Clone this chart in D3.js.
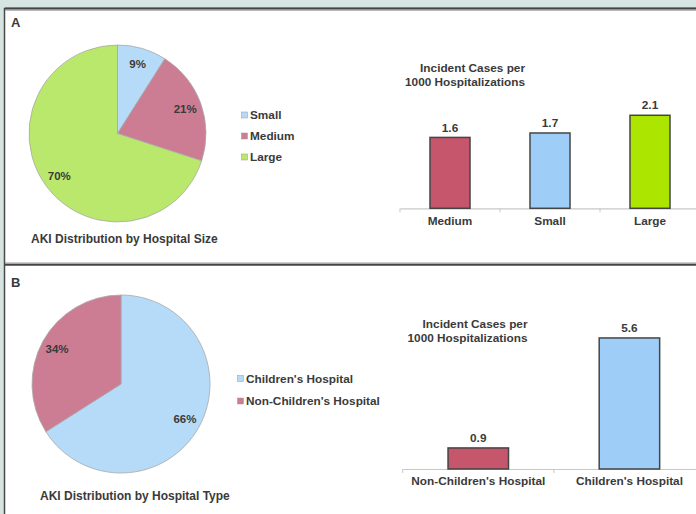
<!DOCTYPE html>
<html>
<head>
  <meta charset="utf-8">
  <title>AKI distribution by hospital</title>
  <script src="https://cdnjs.cloudflare.com/ajax/libs/d3/7.8.5/d3.min.js"></script>
  <style>
    body { margin: 0; background: #d5e4e0; }
    text { font-family: "Liberation Sans", Arial, sans-serif; font-weight: bold; fill: #3a3a3a; }
  </style>
</head>
<body>
  <script>
    // panel A : hospital size
    const sizeCats = [ "Small", "Medium", "Large" ];
    const sizeShare = [ 9, 21, 70 ];
    const sizeBarCats = [ "Medium", "Small", "Large" ];
    const sizeRates = [ 1.6, 1.7, 2.1 ];

    // panel B : hospital type
    const typeCats = [ "Children's Hospital", "Non-Children's Hospital" ];
    const typeShare = [ 66, 34 ];
    const typeBarCats = [ "Non-Children's Hospital", "Children's Hospital" ];
    const typeRates = [ 0.9, 5.6 ];

    const pieColor = { "Small": "#b5dbf8", "Medium": "#cc7d93", "Large": "#b9e86c",
                       "Children's Hospital": "#b5dbf8", "Non-Children's Hospital": "#cc7d93" };
    const barColor = { "Small": "#9ecdf7", "Medium": "#c5566b", "Large": "#ace600",
                       "Children's Hospital": "#9ecdf7", "Non-Children's Hospital": "#c5566b" };

    const width = 696, height = 514;

    const svg = d3.select( "body" )
      .append( "svg" )
      .attr( "width", width )
      .attr( "height", height );

    // frame
    svg.append( "rect" )
      .attr( "x", 4.5 ).attr( "y", 8.5 )
      .attr( "width", width ).attr( "height", height )
      .attr( "fill", "#fff" )
      .attr( "stroke", "#4a4a4a" ).attr( "stroke-width", 1.5 );
    svg.append( "line" )
      .attr( "x1", 5 ).attr( "x2", width ).attr( "y1", 8.5 ).attr( "y2", 8.5 )
      .attr( "stroke", "#444" ).attr( "stroke-width", 2 );
    svg.append( "line" )
      .attr( "x1", 5 ).attr( "x2", width ).attr( "y1", 10.3 ).attr( "y2", 10.3 )
      .attr( "stroke", "#aaa" );
    svg.append( "line" )
      .attr( "x1", 5 ).attr( "x2", width ).attr( "y1", 263 ).attr( "y2", 263 )
      .attr( "stroke", "#999" ).attr( "stroke-width", 1 );
    svg.append( "line" )
      .attr( "x1", 5 ).attr( "x2", width ).attr( "y1", 264.8 ).attr( "y2", 264.8 )
      .attr( "stroke", "#444" ).attr( "stroke-width", 2 );

    svg.append( "text" ).attr( "x", 11 ).attr( "y", 27 )
      .style( "font-size", "13px" ).text( "A" );
    svg.append( "text" ).attr( "x", 11 ).attr( "y", 287 )
      .style( "font-size", "13px" ).text( "B" );

    function drawPie( cats, share, cx, cy, r, labelR ) {
      const g = svg.append( "g" ).attr( "transform", `translate(${cx},${cy})` );
      const arcs = d3.pie().sort( null )( share );
      const arc = d3.arc().innerRadius( 0 ).outerRadius( r );
      const labelArc = d3.arc().innerRadius( labelR ).outerRadius( labelR );
      g.selectAll( "path" )
        .data( arcs )
        .enter()
        .append( "path" )
        .attr( "d", arc )
        .attr( "fill", ( d, i ) => pieColor[ cats[i] ] )
        .attr( "stroke", "#a8a8a8" )
        .attr( "stroke-width", 0.8 );
      g.selectAll( "text" )
        .data( arcs )
        .enter()
        .append( "text" )
        .attr( "transform", d => `translate(${labelArc.centroid( d )})` )
        .attr( "text-anchor", "middle" )
        .attr( "dy", "0.35em" )
        .style( "font-size", "11.5px" )
        .text( d => d.data + "%" );
    }

    function drawLegend( cats, x, y0, gap ) {
      const g = svg.append( "g" );
      const items = g.selectAll( "g" )
        .data( cats )
        .enter()
        .append( "g" )
        .attr( "transform", ( d, i ) => `translate(${x},${y0 + i * gap})` );
      items.append( "rect" )
        .attr( "x", 0 ).attr( "y", -3 )
        .attr( "width", 6 ).attr( "height", 6 )
        .attr( "fill", d => pieColor[d] )
        .attr( "stroke", "#999" ).attr( "stroke-width", 0.5 );
      items.append( "text" )
        .attr( "x", 8.5 ).attr( "dy", "0.36em" )
        .style( "font-size", "11.8px" )
        .text( d => d );
    }

    function drawBars( cats, vals, x0, x1, yBase, pxPerUnit, titleX, titleY ) {
      const x = d3.scaleBand()
        .domain( cats )
        .range( [x0, x1] )
        .paddingInner( 0.6 )
        .paddingOuter( 0.3 );
      const y = d3.scaleLinear()
        .domain( [0, 6] )
        .range( [yBase, yBase - 6 * pxPerUnit] );
      const g = svg.append( "g" );

      // axis line with ticks between categories
      const axis = g.append( "g" )
        .attr( "transform", `translate(0,${yBase})` )
        .call( d3.axisBottom( x ).tickSize( 0 ).tickPadding( 8 ) );
      axis.select( ".domain" ).attr( "stroke", "#c8c8c8" ).attr( "stroke-width", 1.2 );
      axis.selectAll( "text" )
        .style( "font-size", "11.8px" )
        .attr( "fill", "#3a3a3a" )
        .attr( "font-family", null );
      const bounds = d3.range( cats.length + 1 ).map( i => x0 + i * x.step() );
      g.selectAll( ".tk" )
        .data( bounds )
        .enter()
        .append( "line" )
        .attr( "x1", d => d ).attr( "x2", d => d )
        .attr( "y1", yBase ).attr( "y2", yBase + 4 )
        .attr( "stroke", "#c8c8c8" );

      g.selectAll( ".bar" )
        .data( vals )
        .enter()
        .append( "rect" )
        .attr( "x", ( d, i ) => x( cats[i] ) )
        .attr( "y", d => y( d ) )
        .attr( "width", x.bandwidth() )
        .attr( "height", d => y( 0 ) - y( d ) )
        .attr( "fill", ( d, i ) => barColor[ cats[i] ] )
        .attr( "stroke", "#454545" )
        .attr( "stroke-width", 1.5 );

      g.selectAll( ".val" )
        .data( vals )
        .enter()
        .append( "text" )
        .attr( "x", ( d, i ) => x( cats[i] ) + x.bandwidth() / 2 )
        .attr( "y", d => y( d ) - 10 )
        .attr( "dy", "0.35em" )
        .attr( "text-anchor", "middle" )
        .style( "font-size", "11.8px" )
        .text( d => d.toFixed( 1 ) );

      const t = g.append( "text" )
        .attr( "text-anchor", "end" )
        .style( "font-size", "11.8px" );
      t.append( "tspan" ).attr( "x", titleX ).attr( "y", titleY ).text( "Incident Cases per" );
      t.append( "tspan" ).attr( "x", titleX ).attr( "y", titleY + 14.5 ).text( "1000 Hospitalizations" );
    }

    // panel A
    drawPie( sizeCats, sizeShare, 117.5, 133.5, 88.5, 72 );
    drawLegend( sizeCats, 241.5, 115, 21 );
    svg.append( "text" ).attr( "x", 31 ).attr( "y", 243 )
      .style( "font-size", "12px" ).text( "AKI Distribution by Hospital Size" );
    drawBars( sizeBarCats, sizeRates, 400, 700, 208.3, 44.3, 525, 71.5 );

    // panel B
    drawPie( typeCats, typeShare, 121, 384, 89, 73 );
    drawLegend( typeCats, 237.5, 378.5, 22.5 );
    svg.append( "text" ).attr( "x", 40 ).attr( "y", 500 )
      .style( "font-size", "12px" ).text( "AKI Distribution by Hospital Type" );
    drawBars( typeBarCats, typeRates, 402.7, 705, 469, 23.4, 527.5, 327.5 );
  </script>
</body>
</html>
